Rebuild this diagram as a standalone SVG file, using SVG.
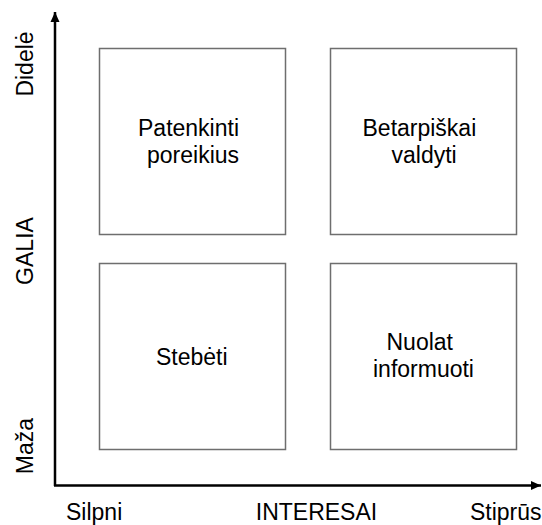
<svg xmlns="http://www.w3.org/2000/svg" width="542" height="525" viewBox="0 0 542 525">
<style>
.t{font-family:"Liberation Sans",Arial,sans-serif;font-size:23px;fill:#000}
.box{fill:#fff;stroke:#6e6e6e;stroke-width:1.5}
.axis{stroke:#000;stroke-width:2.5;fill:none}
</style>
<defs>
<marker id="ah" markerUnits="userSpaceOnUse" markerWidth="10" markerHeight="10" viewBox="0 0 10 10" refX="10" refY="5" orient="auto">
<path d="M0,0.5 L10,5 L0,9.5 Z" fill="#000"/>
</marker>
</defs>
<rect width="542" height="525" fill="#fff"/>
<g id="connectors">
<line class="axis" x1="55" y1="486" x2="55" y2="12" marker-end="url(#ah)"/>
<line class="axis" x1="54" y1="485.5" x2="541" y2="485.5" marker-end="url(#ah)"/>
</g>
<g id="node-patenkinti">
<rect class="box" x="99.5" y="48.5" width="186" height="186"/>
<text class="t" x="138" y="136">Patenkinti</text>
<text class="t" x="147" y="163">poreikius</text>
</g>
<g id="node-betarpiskai">
<rect class="box" x="330.5" y="48.5" width="186" height="186"/>
<text class="t" x="362.5" y="136">Betarpiškai</text>
<text class="t" x="391.5" y="163">valdyti</text>
</g>
<g id="node-stebeti">
<rect class="box" x="99.5" y="263.5" width="186" height="186"/>
<text class="t" x="156" y="365">Stebėti</text>
</g>
<g id="node-nuolat">
<rect class="box" x="330.5" y="263.5" width="186" height="186"/>
<text class="t" x="386.5" y="349.5">Nuolat</text>
<text class="t" x="373" y="376.5">informuoti</text>
</g>
<g id="labels">
<text class="t" text-anchor="middle" transform="translate(33,64) rotate(-90)">Didelė</text>
<text class="t" text-anchor="middle" transform="translate(33,251) rotate(-90)">GALIA</text>
<text class="t" text-anchor="middle" transform="translate(33,446) rotate(-90)">Maža</text>
<text class="t" x="66" y="519.5">Silpni</text>
<text class="t" text-anchor="middle" x="316.5" y="519.5">INTERESAI</text>
<text class="t" text-anchor="end" x="541.5" y="519.5">Stiprūs</text>
</g>
</svg>
